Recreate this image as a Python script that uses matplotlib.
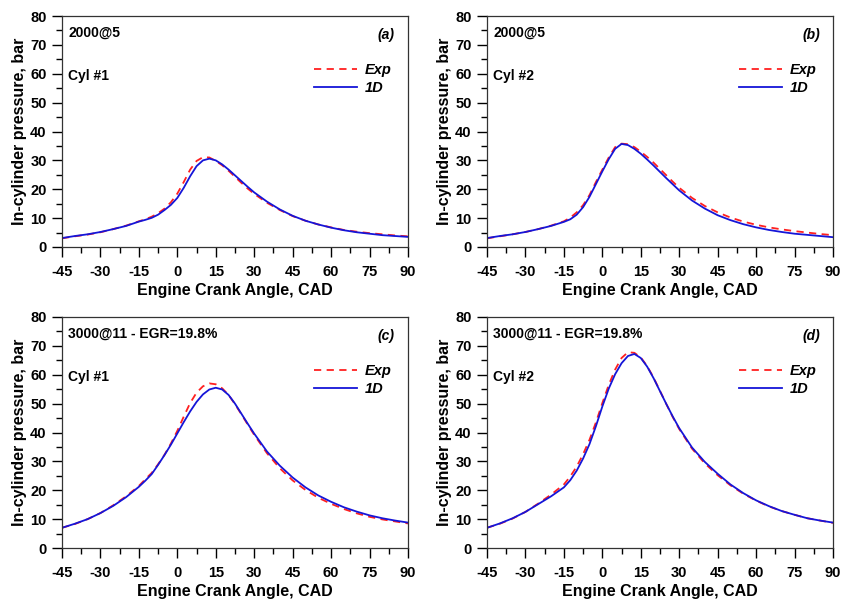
import matplotlib.pyplot as plt
from matplotlib.ticker import MultipleLocator

plt.rcParams['font.family'] = ['Liberation Sans', 'DejaVu Sans']
plt.rcParams['font.weight'] = 'bold'
plt.rcParams['axes.unicode_minus'] = False

# crank angle grid for read-off points
cad = [-45, -40, -35, -30, -25, -20, -15, -12.5, -10, -7.5, -5, -2.5, 0, 2.5, 5, 7.5, 10,
       12.5, 15, 17.5, 20, 22.5, 25, 27.5, 30, 35, 40, 45, 50, 55, 60, 65, 70, 75, 80, 85, 90]

# (a) 2000@5, cyl 1
a_exp = [3.0, 3.7, 4.3, 5.1, 6.2, 7.4, 8.9, 9.6, 10.5, 11.7, 13.3, 15.5, 18.5, 22.5, 26.8, 29.8, 31.1,
         31.0, 29.8, 28.3, 26.4, 24.3, 22.2, 20.2, 18.4, 15.3, 12.8, 10.7, 9.1, 7.8, 6.8, 5.9, 5.3, 4.8, 4.4, 4.0, 3.7]
a_1d = [3.1, 3.8, 4.4, 5.2, 6.2, 7.3, 8.8, 9.4, 10.1, 11.2, 12.8, 14.6, 17.0, 20.5, 24.5, 28.0, 30.0,
        30.6, 30.0, 28.6, 26.8, 24.8, 22.8, 20.8, 18.9, 15.7, 13.0, 10.8, 9.1, 7.8, 6.7, 5.8, 5.1, 4.6, 4.1, 3.8, 3.5]

# (b) 2000@5, cyl 2
b_exp = [3.0, 3.7, 4.4, 5.2, 6.2, 7.4, 8.9, 10.2, 12.0, 14.5, 18.0, 22.5, 26.8, 31.0, 34.6, 35.8, 35.6,
         34.6, 33.0, 31.2, 29.2, 27.0, 24.8, 22.6, 20.5, 17.0, 14.2, 12.0, 10.2, 8.8, 7.7, 6.8, 6.1, 5.5, 5.0, 4.5, 4.1]
b_1d = [3.1, 3.8, 4.4, 5.2, 6.2, 7.3, 8.7, 9.6, 11.2, 13.8, 17.4, 21.8, 26.2, 30.4, 34.0, 35.7, 35.3,
        34.0, 32.3, 30.3, 28.2, 26.0, 23.8, 21.7, 19.6, 16.1, 13.3, 11.0, 9.3, 7.9, 6.8, 5.9, 5.2, 4.6, 4.2, 3.8, 3.4]

# (c) 3000@11 EGR=19.8%, cyl 1
c_exp = [7.0, 8.3, 10.0, 12.1, 14.8, 17.9, 21.5, 23.8, 26.0, 29.0, 32.3, 36.2, 40.6, 45.5, 50.2, 53.8, 56.0,
         57.0, 56.7, 55.3, 53.0, 49.8, 46.3, 42.7, 39.2, 32.8, 27.6, 23.4, 20.1, 17.4, 15.3, 13.5, 12.0, 10.8, 9.9, 9.2, 8.5]
c_1d = [7.0, 8.4, 10.0, 12.1, 14.6, 17.6, 21.2, 23.3, 25.6, 28.8, 32.2, 35.8, 39.7, 43.6, 47.3, 50.6, 53.2,
        54.9, 55.5, 54.9, 53.0, 50.0, 46.5, 43.0, 39.6, 33.4, 28.5, 24.4, 21.0, 18.2, 16.0, 14.1, 12.6, 11.3, 10.3, 9.5, 8.8]

# (d) 3000@11 EGR=19.8%, cyl 2
d_exp = [7.0, 8.4, 10.2, 12.5, 15.4, 18.5, 22.0, 24.8, 28.2, 32.5, 37.5, 43.5, 50.2, 56.5, 61.8, 65.8, 67.8,
         67.6, 66.0, 63.0, 59.0, 54.4, 49.8, 45.3, 41.2, 34.4, 29.3, 25.2, 21.7, 18.8, 16.4, 14.4, 12.8, 11.5, 10.3, 9.5, 8.7]
d_1d = [7.0, 8.5, 10.3, 12.5, 15.2, 17.9, 21.0, 23.5, 26.8, 31.0, 36.0, 42.2, 49.0, 55.2, 60.2, 64.0, 66.5,
        67.2, 65.8, 62.8, 58.8, 54.3, 49.8, 45.5, 41.5, 34.8, 29.8, 25.7, 22.0, 19.0, 16.5, 14.5, 12.8, 11.5, 10.3, 9.5, 8.8]

xticks = [-45, -30, -15, 0, 15, 30, 45, 60, 75, 90]

panels = [
    ('(a)', '2000@5', 'Cyl #1', a_exp, a_1d),
    ('(b)', '2000@5', 'Cyl #2', b_exp, b_1d),
    ('(c)', '3000@11 - EGR=19.8%', 'Cyl #1', c_exp, c_1d),
    ('(d)', '3000@11 - EGR=19.8%', 'Cyl #2', d_exp, d_1d),
]

W, H = 841, 599
fig = plt.figure(figsize=(W / 100, H / 100), dpi=100)

# axes boxes in pixels: left, top, right, bottom
boxes = [(62, 16, 408, 247), (487, 16, 833, 247),
         (62, 317, 408, 548), (487, 317, 833, 548)]

for (tag, cond, cyl, exp, oned), (l, t, r, b) in zip(panels, boxes):
    ax = fig.add_axes([l / W, 1 - b / H, (r - l) / W, (b - t) / H])
    ax.plot(cad, exp, color='#ff2020', ls=(0, (4, 3)), lw=1.3, label='Exp')
    ax.plot(cad, oned, color='#1515d8', lw=1.3, label='1D')
    ax.set_xlim(-45, 90)
    ax.set_ylim(0, 80)
    ax.set_xticks(xticks)
    ax.xaxis.set_minor_locator(MultipleLocator(7.5))
    ax.yaxis.set_major_locator(MultipleLocator(10))
    ax.yaxis.set_minor_locator(MultipleLocator(5))
    ax.tick_params(which='major', length=7, width=1, labelsize=10.5, direction='out')
    ax.tick_params(axis='x', which='major', pad=6)
    ax.tick_params(axis='y', which='major', pad=4)
    ax.tick_params(which='minor', length=4, width=1, direction='out')
    for s in ax.spines.values():
        s.set_linewidth(0.9)
        s.set_color('#333333')
    ax.set_xlabel('Engine Crank Angle, CAD', fontsize=11.5, fontweight='bold', labelpad=3)
    ax.set_ylabel('In-cylinder pressure, bar', fontsize=11.5, fontweight='bold', labelpad=2)
    ax.text(0.018, 0.926, cond, transform=ax.transAxes, fontsize=10, fontweight='bold',
            va='center', ha='left')
    ax.text(0.018, 0.74, cyl, transform=ax.transAxes, fontsize=10, fontweight='bold',
            va='center', ha='left')
    ax.text(0.962, 0.918, tag, transform=ax.transAxes, fontsize=10, fontweight='bold',
            style='italic', va='center', ha='right')
    leg = ax.legend(loc='upper right', bbox_to_anchor=(0.99, 0.855), frameon=False,
                    handlelength=3.0, handletextpad=0.5, labelspacing=0.3,
                    prop={'size': 10.5, 'weight': 'bold', 'style': 'italic'})

fig.savefig('out.png', dpi=100)
